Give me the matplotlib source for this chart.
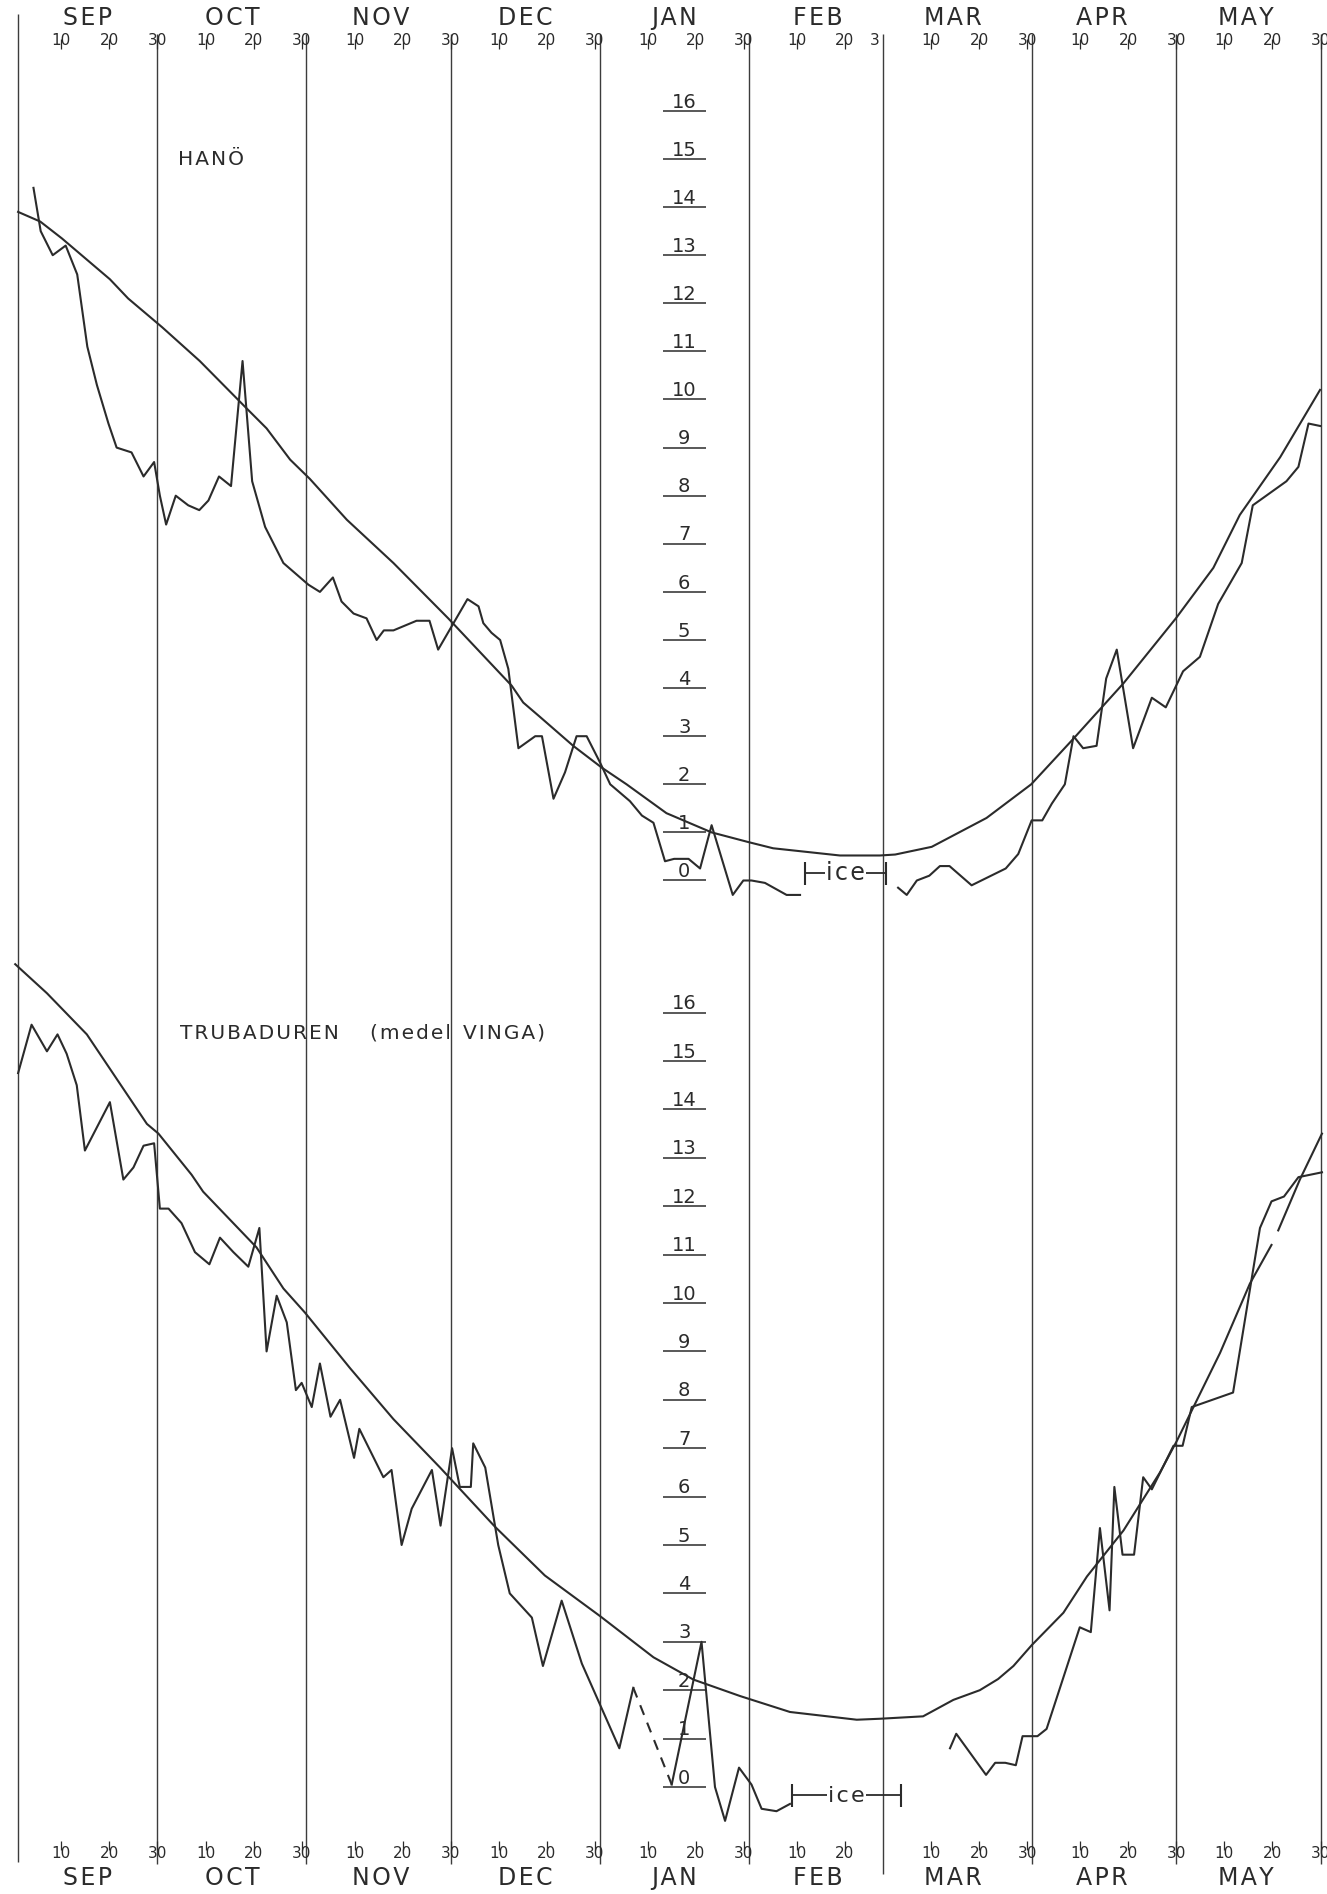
import matplotlib
matplotlib.use("Agg")
import matplotlib.pyplot as plt

W, H, DPI = 1327, 1894, 100
INK = "#2b2b2b"
RULE = "#3c3c3c"

# ---- calendar (day 1 = 1 September) ----
MONTHS = ["SEP", "OCT", "NOV", "DEC", "JAN", "FEB", "MAR", "APR", "MAY"]
MONTH_START = [0, 30, 61, 91, 122, 153, 181, 212, 242]
MONTH_LINES = [30, 61, 91, 122, 153, 181, 212, 242, 272]
TOP_DAY_TEXT = ["10", "20", "30"]
FEB_TOP_TEXT = ["10", "20", "3"]
BOTTOM_DAY_TEXT = ["10", "20", "30"]
FEB_BOTTOM_TEXT = ["10", "20"]
SCALE_VALUES = list(range(0, 17))

# ---- HANÖ: normal curve ----
hano_norm_day = [1.0, 5.6, 10.1, 20.1, 23.9, 31.0, 38.8, 48.2, 52.7, 57.6, 61.7,
                 69.4, 79.1, 90.5, 103.7, 106.1, 109.6, 116.5, 122.4, 127.6,
                 135.9, 145.3, 152.9, 158.1, 172.0, 180.3, 183.5, 191.1, 202.5,
                 211.8, 220.6, 231.0, 241.9, 249.7, 255.2, 263.6, 271.9]
hano_norm_temp = [13.9, 13.7, 13.35, 12.5, 12.1, 11.5, 10.8, 9.85, 9.4, 8.75, 8.35,
                  7.5, 6.6, 5.45, 4.05, 3.7, 3.4, 2.8, 2.35, 2.0,
                  1.4, 1.0, 0.8, 0.67, 0.52, 0.52, 0.54, 0.7, 1.3,
                  2.0, 2.95, 4.1, 5.45, 6.5, 7.6, 8.8, 10.2]

# ---- HANÖ: observed, before and after the ice period ----
hano_obs_autumn_day = [4.2, 5.7, 8.2, 10.9, 13.3, 15.4, 17.4, 19.8, 21.5, 24.6, 27.1,
                       29.3, 30.5, 31.8, 33.8, 36.4, 38.7, 40.6, 42.8, 45.3, 47.7,
                       49.7, 52.4, 56.2, 61.4, 63.8, 66.5, 68.3, 70.8, 73.5, 75.6,
                       77.1, 79.1, 83.9, 86.6, 88.4, 94.5, 96.8, 97.8, 99.5, 101.3,
                       103.0, 105.1, 108.6, 110.0, 112.4, 114.8, 117.2, 119.3, 122.1,
                       124.2, 128.3, 130.8, 133.2, 135.6, 137.5, 140.5, 142.9, 145.3,
                       149.7, 151.9, 153.6, 156.4, 160.9, 163.7]
hano_obs_autumn_temp = [14.4, 13.5, 13.0, 13.2, 12.6, 11.1, 10.3, 9.5, 9.0, 8.9, 8.4,
                        8.7, 8.0, 7.4, 8.0, 7.8, 7.7, 7.9, 8.4, 8.2, 10.8,
                        8.3, 7.35, 6.6, 6.15, 6.0, 6.3, 5.8, 5.55, 5.45, 5.0,
                        5.2, 5.2, 5.4, 5.4, 4.8, 5.85, 5.7, 5.35, 5.15, 5.0,
                        4.4, 2.75, 3.0, 3.0, 1.7, 2.25, 3.0, 3.0, 2.45,
                        2.0, 1.65, 1.35, 1.2, 0.4, 0.45, 0.45, 0.25, 1.15,
                        -0.3, 0.0, 0.0, -0.05, -0.3, -0.3]
hano_obs_spring_day = [184.1, 185.9, 188.0, 190.6, 192.8, 194.8, 199.4, 206.5, 209.1,
                       211.9, 214.1, 216.1, 218.8, 220.6, 222.6, 225.4, 227.4, 229.6,
                       233.0, 236.9, 239.8, 243.4, 246.9, 250.7, 255.6, 257.9, 264.9,
                       267.4, 269.5, 271.9]
hano_obs_spring_temp = [-0.15, -0.3, 0.0, 0.1, 0.3, 0.3, -0.1, 0.25, 0.55,
                        1.25, 1.25, 1.6, 2.0, 3.0, 2.75, 2.8, 4.2, 4.8,
                        2.75, 3.8, 3.6, 4.35, 4.65, 5.75, 6.6, 7.8, 8.3,
                        8.6, 9.5, 9.45]
hano_ice = [164.7, 181.6, 0.15]          # from day, to day, level

# ---- TRUBADUREN (medel VINGA): normal curve ----
trub_norm_day = [0.4, 7.0, 15.3, 27.8, 30.2, 37.1, 39.5, 50.6, 56.2, 60.7, 70.1,
                 79.1, 88.8, 100.2, 110.6, 122.1, 133.2, 141.5, 151.2, 161.6,
                 175.5, 180.3, 189.3, 195.6, 201.1, 204.9, 208.1, 211.9, 218.5,
                 223.4, 231.0, 238.6, 242.1, 251.1, 257.3, 261.8, 263.2, 267.7, 272.3]
trub_norm_temp = [17.0, 16.4, 15.55, 13.7, 13.5, 12.65, 12.3, 11.15, 10.3, 9.8, 8.65,
                  7.6, 6.6, 5.38, 4.37, 3.53, 2.68, 2.22, 1.88, 1.55,
                  1.39, 1.41, 1.46, 1.8, 2.0, 2.23, 2.5, 2.93, 3.6,
                  4.35, 5.3, 6.5, 7.15, 8.97, 10.4, 11.2, 11.5, 12.55, 13.5]
trub_norm_break_after = 261.8            # pen lifted briefly after this day

# ---- TRUBADUREN: observed ----
trub_obs_autumn_day = [1.0, 3.8, 7.0, 9.2, 11.1, 13.2, 14.9, 20.1, 22.9, 25.0, 27.1,
                       29.3, 30.5, 32.3, 35.0, 37.8, 40.8, 43.0, 45.8, 48.9, 51.2,
                       52.7, 54.8, 56.9, 58.8, 60.0, 62.1, 63.8, 66.0, 68.0, 70.9,
                       72.0, 77.0, 78.7, 80.8, 82.9, 87.1, 88.9, 91.3, 92.9, 95.2,
                       95.7, 98.2, 100.9, 103.3, 107.9, 110.2, 114.1, 118.3, 126.1, 129.0]
trub_obs_autumn_temp = [14.75, 15.75, 15.2, 15.55, 15.15, 14.5, 13.15, 14.15, 12.55, 12.8, 13.25,
                        13.3, 11.95, 11.95, 11.65, 11.05, 10.8, 11.35, 11.05, 10.75, 11.55,
                        9.0, 10.15, 9.6, 8.2, 8.35, 7.85, 8.75, 7.65, 8.0, 6.8,
                        7.4, 6.4, 6.55, 5.0, 5.75, 6.55, 5.4, 7.0, 6.2, 6.2,
                        7.1, 6.6, 5.0, 4.0, 3.5, 2.5, 3.85, 2.55, 0.8, 2.05]
trub_obs_winter_day = [137.0, 143.2, 146.0, 148.1, 151.0, 153.6, 155.7, 158.8, 161.6]
trub_obs_winter_temp = [0.05, 3.0, 0.0, -0.7, 0.4, 0.05, -0.45, -0.5, -0.35]
trub_obs_spring_day = [194.9, 196.2, 202.4, 204.3, 206.4, 208.6, 210.0, 213.1, 215.0,
                       221.9, 224.2, 226.1, 228.1, 229.1, 230.8, 233.2, 235.1, 236.9,
                       241.4, 243.3, 245.2, 253.8, 259.4, 261.8, 264.4, 267.4, 272.3]
trub_obs_spring_temp = [0.8, 1.1, 0.25, 0.5, 0.5, 0.45, 1.05, 1.05, 1.2,
                        3.3, 3.2, 5.35, 3.65, 6.2, 4.8, 4.8, 6.4, 6.15,
                        7.05, 7.05, 7.85, 8.15, 11.55, 12.1, 12.2, 12.6, 12.7]
trub_ice = [162.0, 184.8, -0.17]

# ---- page geometry ----
PX_PER_DAY = 4.806
LEFT_PX = 13.3                       # pixel position of day 0
X0 = -LEFT_PX / PX_PER_DAY
X1 = (W - LEFT_PX) / PX_PER_DAY
UP_ZERO, UP_DEG = 880.5, 48.1        # pixel row of 0 degrees, pixels per degree
LO_ZERO, LO_DEG = 1787.0, 48.4


def spaced(s):
    return "\u200a".join(s)


def px_to_day(px):
    return (px - LEFT_PX) / PX_PER_DAY


fig = plt.figure(figsize=(W / DPI, H / DPI), dpi=DPI)
fig.patch.set_facecolor("white")

# background sheet: x in days, y in page pixels (downwards)
bg = fig.add_axes([0, 0, 1, 1])
bg.set_xlim(X0, X1)
bg.set_ylim(H, 0)
bg.axis("off")

# data panels share the day axis; each has its own temperature scale
up = fig.add_axes([0, 0, 1, 1])
up.set_xlim(X0, X1)
up.set_ylim((UP_ZERO - H) / UP_DEG, UP_ZERO / UP_DEG)
up.axis("off")
up.patch.set_alpha(0)

lo = fig.add_axes([0, 0, 1, 1])
lo.set_xlim(X0, X1)
lo.set_ylim((LO_ZERO - H) / LO_DEG, LO_ZERO / LO_DEG)
lo.axis("off")
lo.patch.set_alpha(0)

# month boundary rules
bg.vlines([1], 14, 1862, color=RULE, lw=1.0)
for d in MONTH_LINES:
    bottom = 1874 if d == 181 else 1864
    bg.vlines([d], 34, bottom, color=RULE, lw=1.0)

# month names and day numbers, top and bottom
TOP_MONTH_Y, TOP_DAY_Y = 18, 40
BOT_DAY_Y, BOT_MONTH_Y = 1853, 1878
for i, (name, start) in enumerate(zip(MONTHS, MONTH_START)):
    cx = start + 15.5 - (1.0 if i >= 5 else 0.0)
    bg.text(cx, TOP_MONTH_Y, spaced(name), ha="center", va="center",
            fontsize=17, color=INK)
    bg.text(cx, BOT_MONTH_Y, spaced(name), ha="center", va="center",
            fontsize=17, color=INK)
    top_labels = FEB_TOP_TEXT if name == "FEB" else TOP_DAY_TEXT
    for k, lab in enumerate(top_labels):
        d = start + 10 * (k + 1)
        if name == "FEB" and lab == "3":
            bg.text(start + 26.3, TOP_DAY_Y, lab, ha="center", va="center",
                    fontsize=11, color=INK)
            continue
        bg.text(d, TOP_DAY_Y, lab, ha="center", va="center", fontsize=11, color=INK)
        bg.vlines([d], TOP_DAY_Y - 1, TOP_DAY_Y + 9, color=INK, lw=0.9)
    bot_labels = FEB_BOTTOM_TEXT if name == "FEB" else BOTTOM_DAY_TEXT
    for k, lab in enumerate(bot_labels):
        d = start + 10 * (k + 1)
        bg.text(d, BOT_DAY_Y, lab, ha="center", va="center", fontsize=11, color=INK)
        bg.vlines([d], BOT_DAY_Y - 12, BOT_DAY_Y - 3, color=INK, lw=0.9)

# temperature scales in the middle of each panel
for ax in (up, lo):
    for v in SCALE_VALUES:
        ax.hlines(v, 135.2, 144.1, color=INK, lw=1.1)
        ax.text(139.6, v + 0.07, str(v), ha="center", va="baseline",
                fontsize=14, color=INK)

# station titles
TITLE_FS = 14.5
bg.text(px_to_day(178), 159, spaced("HANÖ"), ha="left", va="center",
        fontsize=TITLE_FS, color=INK)
bg.text(px_to_day(180), 1033, spaced("TRUBADUREN"), ha="left", va="center",
        fontsize=TITLE_FS, color=INK)
bg.text(px_to_day(370), 1033, spaced("(medel"), ha="left", va="center",
        fontsize=TITLE_FS, color=INK)
bg.text(px_to_day(463), 1033, spaced("VINGA)"), ha="left", va="center",
        fontsize=TITLE_FS, color=INK)

# curves
LW = 1.5
up.plot(hano_norm_day, hano_norm_temp, color=INK, lw=LW)
up.plot(hano_obs_autumn_day, hano_obs_autumn_temp, color=INK, lw=LW)
up.plot(hano_obs_spring_day, hano_obs_spring_temp, color=INK, lw=LW)

cut = trub_norm_day.index(trub_norm_break_after) + 1
lo.plot(trub_norm_day[:cut], trub_norm_temp[:cut], color=INK, lw=LW)
lo.plot(trub_norm_day[cut:], trub_norm_temp[cut:], color=INK, lw=LW)
lo.plot(trub_obs_autumn_day, trub_obs_autumn_temp, color=INK, lw=LW)
lo.plot([trub_obs_autumn_day[-1], trub_obs_winter_day[0]],
        [trub_obs_autumn_temp[-1], trub_obs_winter_temp[0]],
        color=INK, lw=LW, ls=(0, (5, 4)))
lo.plot(trub_obs_winter_day, trub_obs_winter_temp, color=INK, lw=LW)
lo.plot(trub_obs_spring_day, trub_obs_spring_temp, color=INK, lw=LW)

# ice periods
for ax, (d0, d1, lev), fs in ((up, hano_ice, 17), (lo, trub_ice, 16)):
    ax.hlines(lev, d0, d1, color=INK, lw=1.3)
    ax.vlines([d0, d1], lev - 0.24, lev + 0.24, color=INK, lw=1.5)
    ax.text((d0 + d1) / 2, lev - 0.13, spaced("ice"), ha="center", va="baseline",
            fontsize=fs, color=INK,
            bbox=dict(facecolor="white", edgecolor="none", pad=1.0))

fig.savefig("out.png", dpi=DPI, facecolor="white")
